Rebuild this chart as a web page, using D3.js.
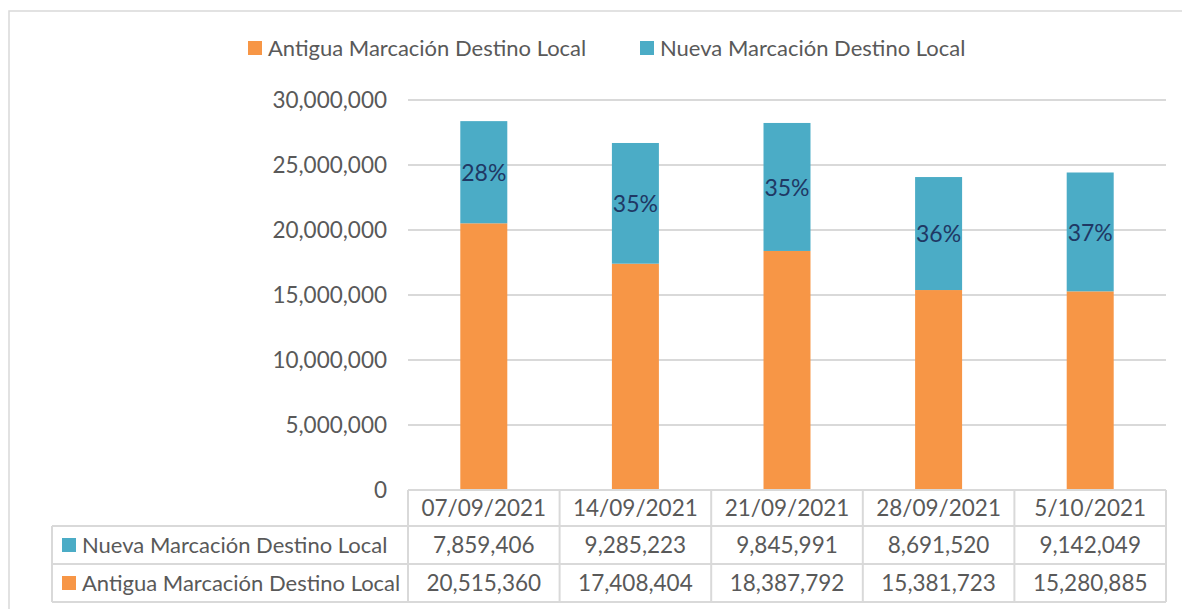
<!DOCTYPE html>
<html>
<head>
<meta charset="utf-8">
<script src="https://cdn.jsdelivr.net/npm/d3@7"></script>
<style>
  body { margin: 0; background: #fff; }
  text { font-family: Lato, "Open Sans", sans-serif; }
</style>
</head>
<body>
<svg id="chart" width="1182" height="609"></svg>
<script>
// data
const weeks = ["07/09/2021", "14/09/2021", "21/09/2021", "28/09/2021", "5/10/2021"];
const antigua = [20515360, 17408404, 18387792, 15381723, 15280885];
const nueva = [7859406, 9285223, 9845991, 8691520, 9142049];
const seriesNames = ["Antigua Marcación Destino Local", "Nueva Marcación Destino Local"];
const yTicks = [0, 5000000, 10000000, 15000000, 20000000, 25000000, 30000000];

const orange = "#F79646", teal = "#4BACC6";
const grey = "#595959", lineCol = "#d9d9d9";
const fmt = d3.format(",");
const pct = d3.format(".0%");
const fs = "22px", numFs = "22.5px";

const svg = d3.select("#chart");

// outer chart frame (runs off the bottom / right)
svg.append("rect")
    .attr("x", 9).attr("y", 11)
    .attr("width", 1300).attr("height", 800)
    .attr("fill", "none").attr("stroke", lineCol).attr("stroke-width", 1.5);

const plotL = 408, plotR = 1166, plotT = 100, plotB = 490;

var x = d3.scaleBand().domain(weeks).range([plotL, plotR]).paddingInner(0).paddingOuter(0);
var y = d3.scaleLinear().domain([0, 30000000]).range([plotB, plotT]);

// gridlines
svg.append("g").selectAll("line")
    .data(yTicks.filter(d => d > 0))
    .join("line")
    .attr("x1", plotL).attr("x2", plotR)
    .attr("y1", d => y(d)).attr("y2", d => y(d))
    .attr("stroke", lineCol).attr("stroke-width", 2);

// y axis labels
var yAxis = d3.axisLeft(y).tickValues(yTicks).tickFormat(fmt).tickSize(0).tickPadding(21);
var ga = svg.append("g").attr("transform", `translate(${plotL},0)`).call(yAxis);
ga.select(".domain").remove();
ga.selectAll("text")
    .attr("fill", grey)
    .style("font-family", "Lato, sans-serif")
    .style("font-size", numFs);

// stacked bars
const rows = weeks.map((w, i) => ({ week: w, a: antigua[i], n: nueva[i] }));
const bw = x.bandwidth() * 0.31;
const bars = svg.append("g");

bars.selectAll("rect.ant")
    .data(rows).join("rect").attr("class", "ant")
    .attr("x", d => x(d.week) + (x.bandwidth() - bw) / 2)
    .attr("width", bw)
    .attr("y", d => y(d.a))
    .attr("height", d => y(0) - y(d.a))
    .attr("fill", orange);

bars.selectAll("rect.nue")
    .data(rows).join("rect").attr("class", "nue")
    .attr("x", d => x(d.week) + (x.bandwidth() - bw) / 2)
    .attr("width", bw)
    .attr("y", d => y(d.a + d.n))
    .attr("height", d => y(d.a) - y(d.a + d.n))
    .attr("fill", teal);

// percent labels inside the teal segment
bars.selectAll("text")
    .data(rows).join("text")
    .attr("x", d => x(d.week) + x.bandwidth() / 2)
    .attr("y", d => (y(d.a) + y(d.a + d.n)) / 2)
    .attr("dy", "0.38em")
    .attr("text-anchor", "middle")
    .attr("fill", "#1F3864")
    .style("font-size", "23px")
    .text(d => pct(d.n / (d.a + d.n)));

// top legend
const legendItems = [
    { name: seriesNames[0], color: orange, x: 248 },
    { name: seriesNames[1], color: teal, x: 640 }
];
var lg = svg.append("g").selectAll("g").data(legendItems).join("g")
    .attr("transform", d => `translate(${d.x},48)`);
lg.append("rect").attr("x", 0).attr("y", -7).attr("width", 14).attr("height", 14)
    .attr("fill", d => d.color);
lg.append("text").attr("x", 20).attr("dy", "0.35em")
    .attr("fill", grey).style("font-size", fs)
    .text(d => d.name);

// data table
const tableLeft = 52, tableRows = [490, 526, 564, 602];
const tbl = svg.append("g");
const bc = lineCol;

// header row: only over the categories
tbl.append("line").attr("x1", plotL).attr("x2", plotR)
    .attr("y1", tableRows[0]).attr("y2", tableRows[0]).attr("stroke", bc).attr("stroke-width", 2);
tableRows.slice(1).forEach(r => {
    tbl.append("line").attr("x1", tableLeft).attr("x2", plotR)
        .attr("y1", r).attr("y2", r).attr("stroke", bc).attr("stroke-width", 2);
});
// vertical lines
tbl.append("line").attr("x1", tableLeft).attr("x2", tableLeft)
    .attr("y1", tableRows[1]).attr("y2", tableRows[3]).attr("stroke", bc).attr("stroke-width", 2);
weeks.forEach(w => {
    tbl.append("line").attr("x1", x(w)).attr("x2", x(w))
        .attr("y1", tableRows[0]).attr("y2", tableRows[3]).attr("stroke", bc).attr("stroke-width", 2);
});
tbl.append("line").attr("x1", plotR).attr("x2", plotR)
    .attr("y1", tableRows[0]).attr("y2", tableRows[3]).attr("stroke", bc).attr("stroke-width", 2);

const mid = i => (tableRows[i] + tableRows[i + 1]) / 2;

tbl.selectAll("text.head").data(weeks).join("text").attr("class", "head")
    .attr("x", d => x(d) + x.bandwidth() / 2).attr("y", mid(0)).attr("dy", "0.35em")
    .attr("text-anchor", "middle").attr("fill", grey).style("font-size", numFs)
    .text(d => d);

const tableSeries = [
    { name: seriesNames[1], color: teal, values: nueva },
    { name: seriesNames[0], color: orange, values: antigua }
];
tableSeries.forEach((s, i) => {
    var ym = mid(i + 1);
    tbl.append("rect").attr("x", 62).attr("y", ym - 7).attr("width", 14).attr("height", 14)
        .attr("fill", s.color);
    tbl.append("text").attr("x", 82).attr("y", ym).attr("dy", "0.35em")
        .attr("fill", grey).style("font-size", fs).text(s.name);
    tbl.selectAll("text.v" + i).data(s.values).join("text").attr("class", "v" + i)
        .attr("x", (d, j) => x(weeks[j]) + x.bandwidth() / 2).attr("y", ym).attr("dy", "0.35em")
        .attr("text-anchor", "middle").attr("fill", grey).style("font-size", numFs)
        .text(d => fmt(d));
});
</script>
</body>
</html>
